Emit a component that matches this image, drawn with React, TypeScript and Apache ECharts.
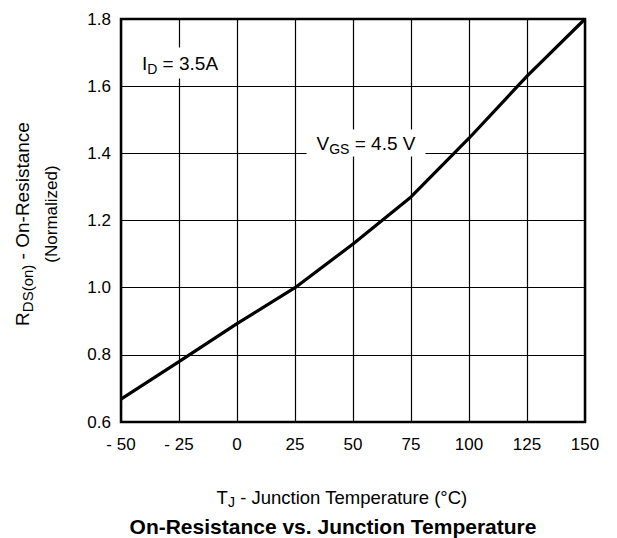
import React, { useEffect, useRef } from "react";
import * as echarts from "echarts";

const temps = [-50, -25, 0, 25, 50, 75, 100, 125, 150];
const rdsOn = [0.668, 0.78, 0.893, 1.0, 1.13, 1.27, 1.445, 1.63, 1.8];
const xTicks = { min: -50, max: 150, step: 25 };
const yTicks = { min: 0.6, max: 1.8, step: 0.2 };

const FONT = "Liberation Sans, Arial, sans-serif";

export default function App() {
  const ref = useRef<HTMLDivElement>(null);
  useEffect(() => {
    if (!ref.current) return;
    const chart = echarts.init(ref.current, undefined, { renderer: "svg" });
    const mk = (n: number, s: number) => ({
      n: { fontSize: n, fontFamily: FONT, color: "#000", lineHeight: n + 4 },
      s: { fontSize: s, fontFamily: FONT, color: "#000", verticalAlign: "bottom", lineHeight: n + 6 },
    });
    chart.setOption({
      animation: false,
      backgroundColor: "#fff",
      grid: {
        left: 121, top: 19, width: 464, height: 403,
        show: true, borderColor: "#000", borderWidth: 2.5, backgroundColor: "transparent",
      },
      xAxis: {
        type: "value", min: xTicks.min, max: xTicks.max, interval: xTicks.step,
        axisLine: { show: false }, axisTick: { show: false },
        splitLine: { show: true, lineStyle: { color: "#000", width: 1.2 } },
        axisLabel: {
          fontSize: 17, fontFamily: FONT, color: "#000", margin: 14,
          formatter: (v: number) => (v < 0 ? "- " + Math.abs(v) : String(v)),
        },
      },
      yAxis: {
        type: "value", min: yTicks.min, max: yTicks.max, interval: yTicks.step,
        axisLine: { show: false }, axisTick: { show: false },
        splitLine: { show: true, lineStyle: { color: "#000", width: 1.2 } },
        axisLabel: {
          fontSize: 17, fontFamily: FONT, color: "#000", margin: 10,
          formatter: (v: number) => v.toFixed(1),
        },
      },
      series: [
        {
          type: "line",
          data: temps.map((t, i) => [t, rdsOn[i]]),
          showSymbol: false,
          lineStyle: { color: "#000", width: 3.2 },
          z: 5,
        },
      ],
      graphic: [
        {
          type: "text", x: 180, y: 63, z: 20,
          style: {
            text: "{n|I}{s|D}{n| = 3.5A}",
            align: "center", verticalAlign: "middle",
            backgroundColor: "#fff", padding: [3, 4, 3, 4],
            rich: mk(19, 14),
          },
        },
        {
          type: "text", x: 366, y: 143, z: 20,
          style: {
            text: "{n|V}{s|GS}{n| = 4.5 V}",
            align: "center", verticalAlign: "middle",
            backgroundColor: "#fff", padding: [1, 10, 1, 10],
            rich: mk(19, 14),
          },
        },
        {
          type: "text", x: 22, y: 224, rotation: Math.PI / 2, z: 20,
          style: {
            text: "{n|R}{s|DS(on)}{n| - On-Resistance}",
            align: "center", verticalAlign: "middle",
            rich: mk(19, 15),
          },
        },
        {
          type: "text", x: 51, y: 214, rotation: Math.PI / 2, z: 20,
          style: {
            text: "(Normalized)", align: "center", verticalAlign: "middle",
            fontSize: 17, fontFamily: FONT, fill: "#000",
          },
        },
        {
          type: "text", x: 342, y: 497, z: 20,
          style: {
            text: "{n|T}{s|J}{n| - Junction Temperature (°C)}",
            align: "center", verticalAlign: "middle",
            rich: mk(18.5, 14),
          },
        },
        {
          type: "text", x: 333, y: 526, z: 20,
          style: {
            text: "On-Resistance vs. Junction Temperature",
            align: "center", verticalAlign: "middle",
            fontSize: 21, fontWeight: "bold", fontFamily: FONT, fill: "#000",
          },
        },
      ],
    });
    return () => chart.dispose();
  }, []);
  return (
    <div
      ref={ref}
      style={{ position: "fixed", left: 0, top: 0, width: 617, height: 538 }}
    />
  );
}
